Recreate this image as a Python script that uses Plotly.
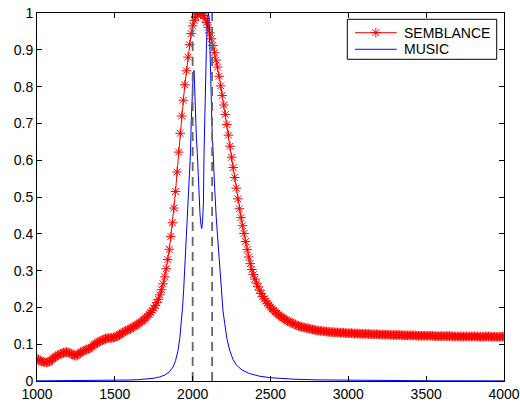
import plotly.graph_objects as go

# ---------------- data ----------------
semblance_x = list(range(1000, 4001, 10))
semblance_y = [
    # 1000-1490
    0.061, 0.058, 0.055, 0.053, 0.052, 0.051, 0.050, 0.051, 0.053, 0.056,
    0.060, 0.063, 0.066, 0.069, 0.071, 0.073, 0.075, 0.077, 0.078, 0.079,
    0.078, 0.076, 0.074, 0.071, 0.069, 0.069, 0.071, 0.074, 0.077, 0.080,
    0.082, 0.084, 0.085, 0.087, 0.089, 0.092, 0.096, 0.099, 0.102, 0.105,
    0.107, 0.109, 0.111, 0.113, 0.115, 0.116, 0.117, 0.117, 0.117, 0.118,
    # 1500-1990
    0.119, 0.121, 0.123, 0.126, 0.128, 0.131, 0.134, 0.136, 0.138, 0.140,
    0.142, 0.145, 0.147, 0.150, 0.152, 0.155, 0.158, 0.161, 0.165, 0.168,
    0.172, 0.176, 0.181, 0.186, 0.192, 0.198, 0.205, 0.213, 0.222, 0.234,
    0.248, 0.264, 0.283, 0.305, 0.330, 0.358, 0.393, 0.430, 0.470, 0.515,
    0.568, 0.622, 0.673, 0.720, 0.763, 0.805, 0.843, 0.880, 0.914, 0.944,
    # 2000-2490
    0.965, 0.980, 0.990, 0.996, 0.999, 1.000, 0.998, 0.993, 0.985, 0.974,
    0.961, 0.946, 0.930, 0.912, 0.892, 0.872, 0.853, 0.828, 0.802, 0.776,
    0.750, 0.724, 0.697, 0.668, 0.638, 0.608, 0.580, 0.553, 0.524, 0.495,
    0.468, 0.444, 0.422, 0.401, 0.379, 0.357, 0.337, 0.319, 0.303, 0.289,
    0.277, 0.266, 0.256, 0.247, 0.238, 0.230, 0.223, 0.217, 0.211, 0.206,
    # 2500-2990
    0.201, 0.196, 0.192, 0.188, 0.184, 0.180, 0.177, 0.174, 0.171, 0.168,
    0.166, 0.163, 0.161, 0.159, 0.157, 0.155, 0.153, 0.151, 0.150, 0.148,
    0.147, 0.146, 0.145, 0.144, 0.143, 0.142, 0.141, 0.140, 0.139, 0.138,
    0.137, 0.137, 0.136, 0.136, 0.135, 0.135, 0.134, 0.134, 0.133, 0.133,
    0.133, 0.132, 0.132, 0.132, 0.131, 0.131, 0.131, 0.131, 0.130, 0.130,
    # 3000-3490
    0.130, 0.130, 0.130, 0.129, 0.129, 0.129, 0.129, 0.129, 0.128, 0.128,
    0.128, 0.128, 0.128, 0.128, 0.127, 0.127, 0.127, 0.127, 0.127, 0.127,
    0.126, 0.126, 0.126, 0.126, 0.126, 0.126, 0.126, 0.125, 0.125, 0.125,
    0.125, 0.125, 0.125, 0.125, 0.125, 0.124, 0.124, 0.124, 0.124, 0.124,
    0.124, 0.124, 0.124, 0.124, 0.123, 0.123, 0.123, 0.123, 0.123, 0.123,
    # 3500-4000
    0.123, 0.123, 0.123, 0.123, 0.123, 0.122, 0.122, 0.122, 0.122, 0.122,
    0.122, 0.122, 0.122, 0.122, 0.122, 0.122, 0.122, 0.121, 0.121, 0.121,
    0.121, 0.121, 0.121, 0.121, 0.121, 0.121, 0.121, 0.121, 0.121, 0.121,
    0.121, 0.121, 0.121, 0.121, 0.120, 0.120, 0.120, 0.120, 0.121, 0.121,
    0.121, 0.121, 0.120, 0.120, 0.120, 0.120, 0.120, 0.120, 0.120, 0.120,
    0.121,
]

music_x = [
    1000, 1100, 1200, 1300, 1400, 1500, 1600, 1650, 1700, 1750,
    1788, 1820, 1850, 1874, 1890, 1906, 1917, 1927, 1935, 1942,
    1950, 1959, 1966, 1974, 1981, 1986, 1991, 1997, 2003, 2009,
    2013, 2017, 2024, 2030, 2038, 2047, 2053, 2058, 2063, 2069,
    2073, 2077, 2082, 2088, 2094, 2100, 2105, 2110, 2116, 2124,
    2130, 2141, 2152, 2163, 2173, 2184, 2195, 2206, 2220, 2238,
    2260, 2281, 2320, 2366, 2430, 2500, 2644, 2800, 2965, 3200,
    3500, 4000,
]
music_y = [
    0.0004, 0.0005, 0.0007, 0.0009, 0.0012, 0.0017, 0.0027, 0.0036, 0.005, 0.0075,
    0.011, 0.016, 0.025, 0.038, 0.055, 0.083, 0.115, 0.156, 0.200, 0.246,
    0.310, 0.382, 0.430, 0.500, 0.550, 0.620, 0.708, 0.780, 0.830, 0.844,
    0.780, 0.708, 0.660, 0.618, 0.527, 0.455, 0.425, 0.414, 0.430, 0.482,
    0.618, 0.708, 0.800, 0.900, 0.970, 1.000, 0.990, 0.930, 0.830, 0.690,
    0.620, 0.527, 0.440, 0.370, 0.310, 0.246, 0.190, 0.156, 0.115, 0.083,
    0.058, 0.043, 0.029, 0.020, 0.013, 0.009, 0.005, 0.003, 0.002, 0.001,
    0.0007, 0.0004,
]

dashed_x = [2000, 2125]
dashed_y = [0, 1]

x_ticks = [1000, 1500, 2000, 2500, 3000, 3500, 4000]
y_ticks = [0, 0.1, 0.2, 0.3, 0.4, 0.5, 0.6, 0.7, 0.8, 0.9, 1]
y_tick_labels = ["0", "0.1", "0.2", "0.3", "0.4", "0.5", "0.6", "0.7", "0.8", "0.9", "1"]

legend_labels = ["SEMBLANCE", "MUSIC"]
legend_colors = ["#ff0000", "#0000ff"]

RED = "#ff0000"
BLUE = "#0000ff"
FONT = "Liberation Sans, Arial, Helvetica, sans-serif"

# ---------------- figure ----------------
fig = go.Figure()

fig.add_trace(go.Scatter(
    x=semblance_x, y=semblance_y, name="SEMBLANCE",
    mode="lines+markers",
    line=dict(color=RED, width=1),
    marker=dict(symbol="asterisk-open", size=8, color=RED,
                line=dict(color=RED, width=1)),
    showlegend=False,
))

fig.add_trace(go.Scatter(
    x=music_x, y=music_y, name="MUSIC",
    mode="lines",
    line=dict(color=BLUE, width=1),
    showlegend=False,
))

for xv in dashed_x:
    fig.add_trace(go.Scatter(
        x=[xv, xv], y=dashed_y, mode="lines", showlegend=False,
        line=dict(color="#666666", width=1.8, dash="9px,6px"),
        hoverinfo="skip",
    ))

# ---- hand-made MATLAB-style legend (paper-fraction coordinates) ----
box_x0, box_x1 = 0.6645, 0.9844
box_y0, box_y1 = 0.8742, 0.9829
sample_x0, sample_x1 = 0.681, 0.7702
text_x = 0.781
row_y = [0.9465, 0.9014]

fig.add_shape(type="rect", xref="paper", yref="paper",
              x0=box_x0, x1=box_x1, y0=box_y0, y1=box_y1,
              line=dict(color="black", width=1), fillcolor="white", layer="below")
for label, color, ry in zip(legend_labels, legend_colors, row_y):
    fig.add_shape(type="line", xref="paper", yref="paper",
                  x0=sample_x0, x1=sample_x1, y0=ry, y1=ry,
                  line=dict(color=color, width=1), layer="below")
    fig.add_annotation(x=text_x, y=ry, xref="paper", yref="paper",
                       text=label, showarrow=False, xanchor="left", yanchor="middle",
                       font=dict(family=FONT, size=14, color="black"))

# star marker of the SEMBLANCE legend entry, on an invisible overlay axis
fig.add_trace(go.Scatter(
    x=[(sample_x0 + sample_x1) / 2], y=[row_y[0]], xaxis="x2", yaxis="y2",
    mode="markers", showlegend=False, hoverinfo="skip",
    marker=dict(symbol="asterisk-open", size=8, color=RED, line=dict(color=RED, width=1)),
))

axis_common = dict(
    showline=True, linecolor="black", linewidth=1, mirror="ticks",
    ticks="inside", ticklen=5, tickcolor="black", tickwidth=1,
    showgrid=False, zeroline=False, automargin=False,
    tickfont=dict(family=FONT, size=14, color="black"),
)

fig.update_layout(
    template="none",
    width=520, height=403,
    margin=dict(l=37, r=16, t=13, b=22, pad=0),
    paper_bgcolor="white", plot_bgcolor="white",
    showlegend=False,
    xaxis=dict(range=[1000, 4000], tickvals=x_ticks,
               ticktext=[str(v) for v in x_ticks], **axis_common),
    yaxis=dict(range=[0, 1], tickvals=y_ticks, ticktext=y_tick_labels, **axis_common),
    xaxis2=dict(overlaying="x", range=[0, 1], visible=False, automargin=False),
    yaxis2=dict(overlaying="y", range=[0, 1], visible=False, automargin=False),
)

fig.write_html("out.html")
